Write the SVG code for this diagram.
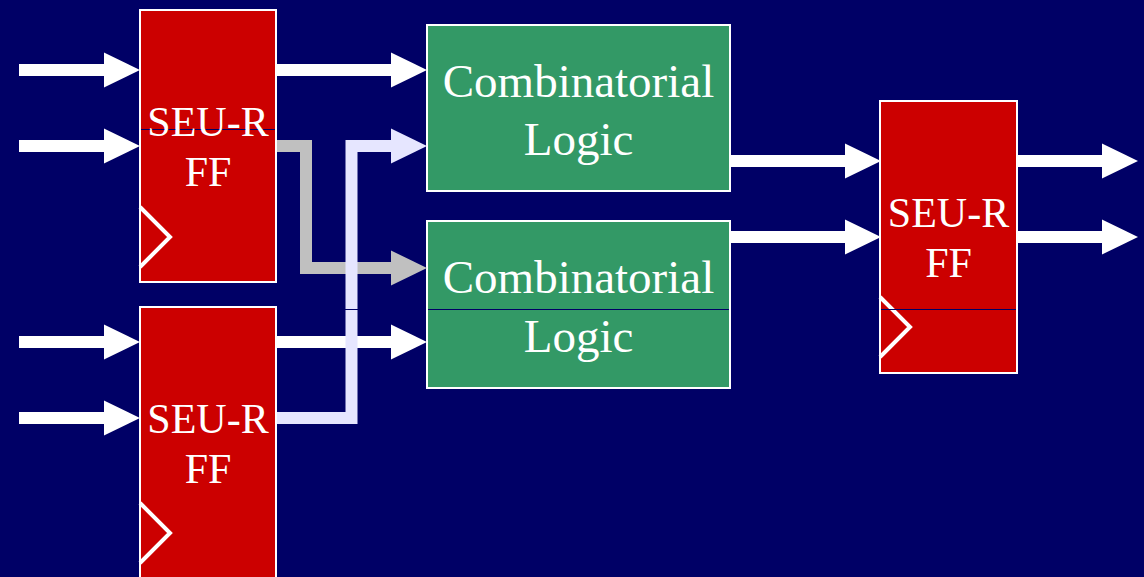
<svg xmlns="http://www.w3.org/2000/svg" width="1144" height="577" viewBox="0 0 1144 577">
<defs>
<style>
.ff{fill:#CC0000;stroke:#FFFFFF;stroke-width:2}
.cl{fill:#339966;stroke:#FFFFFF;stroke-width:2}
.clk{fill:none;stroke:#FFFFFF;stroke-width:4}
.t1{font-family:"Liberation Serif","Times New Roman",serif;font-size:42px;fill:#FFFFFF;text-anchor:middle}
.t2{font-family:"Liberation Serif","Times New Roman",serif;font-size:47px;fill:#FFFFFF;text-anchor:middle}
.w{fill:none;stroke:#FFFFFF;stroke-width:12;marker-end:url(#aw)}
.g{fill:none;stroke:#C0C0C0;stroke-width:12;stroke-linejoin:miter;marker-end:url(#ag)}
.l{fill:none;stroke:#E6E6FF;stroke-width:12;stroke-linejoin:miter;marker-end:url(#al)}
.seam{stroke:#000066;stroke-width:1}
</style>
<marker id="aw" markerUnits="userSpaceOnUse" markerWidth="36" markerHeight="36" refX="0" refY="18" orient="auto"><path d="M0,0.5 L36,18 L0,35.5 z" fill="#FFFFFF"/></marker>
<marker id="ag" markerUnits="userSpaceOnUse" markerWidth="36" markerHeight="36" refX="0" refY="18" orient="auto"><path d="M0,0.5 L36,18 L0,35.5 z" fill="#C0C0C0"/></marker>
<marker id="al" markerUnits="userSpaceOnUse" markerWidth="36" markerHeight="36" refX="0" refY="18" orient="auto"><path d="M0,0.5 L36,18 L0,35.5 z" fill="#E6E6FF"/></marker>
</defs>
<rect x="0" y="0" width="1144" height="577" fill="#000066"/>

<g id="ff1">
<rect class="ff" x="140" y="10" width="136" height="272"/>
<polyline class="clk" points="140,207 170,237 140,267"/>
<line class="seam" x1="141" y1="129.5" x2="275" y2="129.5"/>
<text class="t1" x="208" y="136">SEU-R</text>
<text class="t1" x="208" y="186">FF</text>
</g>

<g id="ff2">
<rect class="ff" x="140" y="307" width="136" height="280"/>
<polyline class="clk" points="140,503 170,533 140,563"/>
<text class="t1" x="208" y="433">SEU-R</text>
<text class="t1" x="208" y="483">FF</text>
</g>

<g id="cl1">
<rect class="cl" x="427" y="25" width="303" height="166"/>
<text class="t2" x="578.5" y="97">Combinatorial</text>
<text class="t2" x="578.5" y="155">Logic</text>
</g>

<g id="cl2">
<rect class="cl" x="427" y="221" width="303" height="167"/>
<line class="seam" x1="428" y1="309.5" x2="729" y2="309.5"/>
<text class="t2" x="578.5" y="293">Combinatorial</text>
<text class="t2" x="578.5" y="352">Logic</text>
</g>

<g id="ff3">
<rect class="ff" x="880" y="101" width="137" height="272"/>
<polyline class="clk" points="880,297 910,327 880,357"/>
<line class="seam" x1="881" y1="309.5" x2="1016" y2="309.5"/>
<text class="t1" x="948.5" y="227">SEU-R</text>
<text class="t1" x="948.5" y="277">FF</text>
</g>

<g id="connectors">
<line class="w" x1="19" y1="70" x2="104" y2="70"/>
<line class="w" x1="19" y1="146" x2="104" y2="146"/>
<line class="w" x1="19" y1="342" x2="104" y2="342"/>
<line class="w" x1="19" y1="418" x2="104" y2="418"/>
<line class="w" x1="277" y1="70" x2="391" y2="70"/>
<line class="w" x1="277" y1="342" x2="391" y2="342"/>
<polyline class="g" points="277,146 306,146 306,268 391,268"/>
<polyline class="l" points="277,418 351.5,418 351.5,146 391,146"/>
<line class="seam" x1="345" y1="309.5" x2="358" y2="309.5"/>
<line class="w" x1="731" y1="161" x2="845" y2="161"/>
<line class="w" x1="731" y1="237" x2="845" y2="237"/>
<line class="w" x1="1018" y1="161" x2="1102" y2="161"/>
<line class="w" x1="1018" y1="237" x2="1102" y2="237"/>
</g>
</svg>
